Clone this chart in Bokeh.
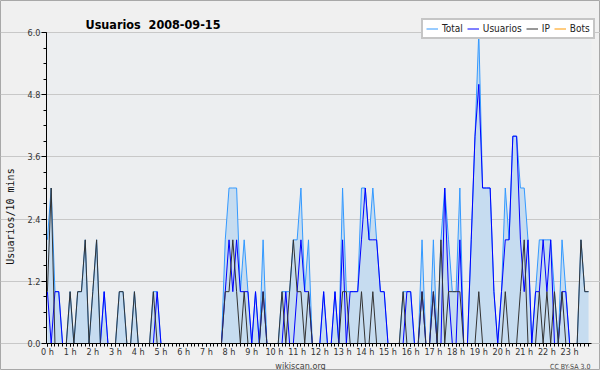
import math
from bokeh.plotting import figure
from bokeh.models import (Range1d, FixedTicker, Legend, LegendItem, Label,
                          PrintfTickFormatter, BoxAnnotation)
from bokeh.embed import file_html
from bokeh.resources import INLINE

# ---------------- data (10-minute slots, 2008-09-15) ----------------
title_text = "Usuarios  2008-09-15"
y_label = "Usuarios/10 mins"
series_names = ["Total", "Usuarios", "IP", "Bots"]
hour_labels = ["0 h", "1 h", "2 h", "3 h", "4 h", "5 h", "6 h", "7 h",
               "8 h", "9 h", "10 h", "11 h", "12 h", "13 h", "14 h", "15 h",
               "16 h", "17 h", "18 h", "19 h", "20 h", "21 h", "22 h", "23 h"]
y_ticks = [0.0, 1.2, 2.4, 3.6, 4.8, 6.0]

total = [2, 3, 1, 1, 0, 0, 1, 0, 1, 1, 2, 0, 1, 2, 0, 1, 0, 0, 0, 1, 1, 0, 0, 1,
         0, 0, 0, 0, 1, 1, 0, 0, 0, 0, 0, 0, 0, 0, 0, 0, 0, 0, 0, 0, 0, 0, 0, 2,
         3, 3, 3, 1, 2, 1, 0, 1, 0, 2, 0, 0, 0, 0, 1, 1, 1, 2, 2, 3, 1, 2, 0, 0,
         0, 1, 0, 0, 1, 0, 3, 1, 1, 1, 1, 3, 3, 2, 3, 2, 1, 1, 0, 0, 0, 0, 1, 1,
         1, 0, 0, 2, 0, 0, 2, 0, 2, 3, 2, 1, 1, 3, 0, 0, 2, 4, 6, 3, 3, 3, 1, 0,
         1, 3, 2, 4, 4, 3, 3, 2, 0, 1, 2, 2, 2, 2, 1, 0, 2, 1, 0, 0, 0, 2, 1, 1]

usuarios = [1, 0, 1, 1, 0, 0, 0, 0, 0, 0, 0, 0, 0, 0, 0, 1, 0, 0, 0, 0, 0, 0, 0, 0,
            0, 0, 0, 0, 0, 1, 0, 0, 0, 0, 0, 0, 0, 0, 0, 0, 0, 0, 0, 0, 0, 0, 0, 1,
            2, 1, 2, 1, 1, 1, 0, 1, 0, 1, 0, 0, 0, 0, 0, 1, 0, 0, 1, 2, 1, 1, 0, 0,
            0, 1, 0, 0, 1, 0, 2, 0, 1, 1, 1, 2, 3, 2, 2, 2, 1, 1, 0, 0, 0, 0, 0, 1,
            1, 0, 0, 1, 0, 0, 1, 0, 0, 3, 1, 0, 0, 2, 0, 0, 2, 4, 5, 3, 3, 3, 1, 0,
            1, 2, 2, 4, 4, 2, 1, 2, 0, 1, 1, 2, 1, 2, 0, 0, 1, 1, 0, 0, 0, 0, 0, 0]

ip = [1, 3, 0, 0, 0, 0, 1, 0, 1, 1, 2, 0, 1, 2, 0, 0, 0, 0, 0, 1, 1, 0, 0, 1,
      0, 0, 0, 0, 1, 0, 0, 0, 0, 0, 0, 0, 0, 0, 0, 0, 0, 0, 0, 0, 0, 0, 0, 1,
      1, 2, 1, 0, 1, 0, 0, 0, 0, 1, 0, 0, 0, 0, 1, 0, 1, 2, 1, 1, 0, 1, 0, 0,
      0, 0, 0, 0, 0, 0, 1, 1, 0, 0, 0, 1, 0, 0, 1, 0, 0, 0, 0, 0, 0, 0, 1, 0,
      0, 0, 0, 1, 0, 0, 1, 0, 2, 0, 1, 1, 1, 1, 0, 0, 0, 0, 1, 0, 0, 0, 0, 0,
      0, 1, 0, 0, 0, 1, 2, 0, 0, 0, 1, 0, 1, 0, 1, 0, 1, 0, 0, 0, 0, 2, 1, 1]

bots = [0, 0, 0, 0, 0, 0, 0, 0, 0, 0, 0, 0, 0, 0, 0, 0, 0, 0, 0, 0, 0, 0, 0, 0,
        0, 0, 0, 0, 0, 0, 0, 0, 0, 0, 0, 0, 0, 0, 0, 0, 0, 0, 0, 0, 0, 0, 0, 0,
        0, 0, 0, 0, 0, 0, 0, 0, 0, 0, 0, 0, 0, 0, 0, 0, 0, 0, 0, 0, 0, 0, 0, 0,
        0, 0, 0, 0, 0, 0, 0, 0, 0, 0, 0, 0, 0, 0, 0, 0, 0, 0, 0, 0, 0, 0, 0, 0,
        0, 0, 0, 0, 0, 0, 0, 0, 0, 0, 0, 0, 0, 0, 0, 0, 0, 0, 0, 0, 0, 0, 0, 0,
        0, 0, 0, 0, 0, 0, 0, 0, 0, 0, 0, 0, 0, 0, 0, 0, 0, 0, 0, 0, 0, 0, 0, 0]

# time of day (hours) of each 10-minute slot
hours = [i / 6 for i in range(len(total))]

# ---------------- layout (pixels) ----------------
W, H = 600, 370
X0_PX = 46.9            # pixel column of 0 h
PX_PER_HOUR = 22.705
Y0_PX = 343.0           # pixel row of value 0 (from top)
PX_PER_UNIT = 51.83
AX_LEFT, AX_RIGHT = -0.04, 23.96   # extent of the plot area (hours)
Y_TOP = 6.0

x_start = -X0_PX / PX_PER_HOUR
x_end = x_start + W / PX_PER_HOUR
y_start = -(H - Y0_PX) / PX_PER_UNIT
y_end = y_start + H / PX_PER_UNIT

FONT = "DejaVu Sans Condensed"

p = figure(width=W, height=H, output_backend="svg", toolbar_location=None,
           x_range=Range1d(x_start, x_end), y_range=Range1d(y_start, y_end),
           min_border=0, min_border_left=0, min_border_right=0,
           min_border_top=0, min_border_bottom=0,
           background_fill_color="#f0f0f0", border_fill_color="#f0f0f0",
           outline_line_color="#a8a8a8", outline_line_width=1)
p.title.visible = False

# plot-area background
p.add_layout(BoxAnnotation(left=AX_LEFT, right=AX_RIGHT, bottom=0, top=Y_TOP,
                           fill_color="#eceef0", fill_alpha=1.0,
                           line_color=None, level="image"))

# axes, drawn at fixed positions inside the frame
xax = p.xaxis[0]
yax = p.yaxis[0]
xax.fixed_location = 0
yax.fixed_location = AX_LEFT
xax.bounds = (AX_LEFT, AX_RIGHT)
yax.bounds = (0, Y_TOP)

xax.ticker = FixedTicker(ticks=list(range(24)), minor_ticks=hours)
xax.major_label_overrides = {h: hour_labels[h] for h in range(24)}
yax.ticker = FixedTicker(ticks=y_ticks, minor_ticks=[k * 0.3 for k in range(21)])
yax.formatter = PrintfTickFormatter(format="%.1f")

for ax in (xax, yax):
    ax.axis_line_color = "black"
    ax.axis_line_width = 1
    ax.major_tick_line_color = "black"
    ax.minor_tick_line_color = "black"
    ax.major_tick_in = 0
    ax.minor_tick_in = 0
    ax.major_label_text_font = FONT
    ax.major_label_text_font_size = "9px"
    ax.major_label_text_color = "#333333"

xax.major_tick_out = 3
xax.minor_tick_out = 3
xax.major_label_standoff = 0
yax.major_tick_out = 5
yax.minor_tick_out = 3
yax.major_label_standoff = 1

p.xgrid.visible = False
p.ygrid.ticker = FixedTicker(ticks=y_ticks)
p.ygrid.bounds = (AX_LEFT, AX_RIGHT)
p.ygrid.grid_line_color = "#c8c8c8"
p.ygrid.grid_line_width = 1

# glyphs
r_fill = p.varea(x=hours, y1=0, y2=total, fill_color="#c6dcf0")
r_total = p.line(hours, total, line_color="#3399ff", line_width=1)
r_users = p.line(hours, usuarios, line_color="#0000ff", line_width=1)
r_ip = p.line(hours, ip, line_color="#333333", line_width=1)
r_bots = p.line(hours, bots, line_color="#ff9900", line_width=1)

legend = Legend(items=[LegendItem(label=series_names[0], renderers=[r_total]),
                       LegendItem(label=series_names[1], renderers=[r_users]),
                       LegendItem(label=series_names[2], renderers=[r_ip]),
                       LegendItem(label=series_names[3], renderers=[r_bots])],
                location=(421, 331.5), orientation="horizontal",
                background_fill_color="white", background_fill_alpha=1.0,
                border_line_color="#8c8c8c", border_line_width=2,
                label_text_font=FONT, label_text_font_size="10px",
                label_text_color="#222222",
                glyph_width=12, glyph_height=11, label_standoff=4,
                spacing=4, padding=3, margin=0, label_height=11,
                label_width=0)
p.add_layout(legend, "center")

# title, axis title and footer
p.add_layout(Label(x=85, y=H - 23.5, x_units="screen", y_units="screen",
                   text=title_text.replace("  ", "\u00a0 "), text_font=FONT,
                   text_font_size="12.5px", text_font_style="bold",
                   text_color="black", text_baseline="alphabetic"))
p.add_layout(Label(x=10, y=H - 216, x_units="screen", y_units="screen",
                   text=y_label, angle=math.pi / 2,
                   text_font="DejaVu Sans Mono", text_font_size="10px",
                   text_color="#111111", text_align="center",
                   text_baseline="middle"))
p.add_layout(Label(x=300, y=H - 365, x_units="screen", y_units="screen",
                   text="wikiscan.org", text_font=FONT, text_font_size="9px",
                   text_color="#444444", text_align="center",
                   text_baseline="alphabetic"))
p.add_layout(Label(x=590, y=H - 366, x_units="screen", y_units="screen",
                   text="CC BY-SA 3.0", text_font=FONT, text_font_size="7px",
                   text_color="#444444", text_align="right",
                   text_baseline="alphabetic"))

open("out.html", "w").write(file_html(p, INLINE))
